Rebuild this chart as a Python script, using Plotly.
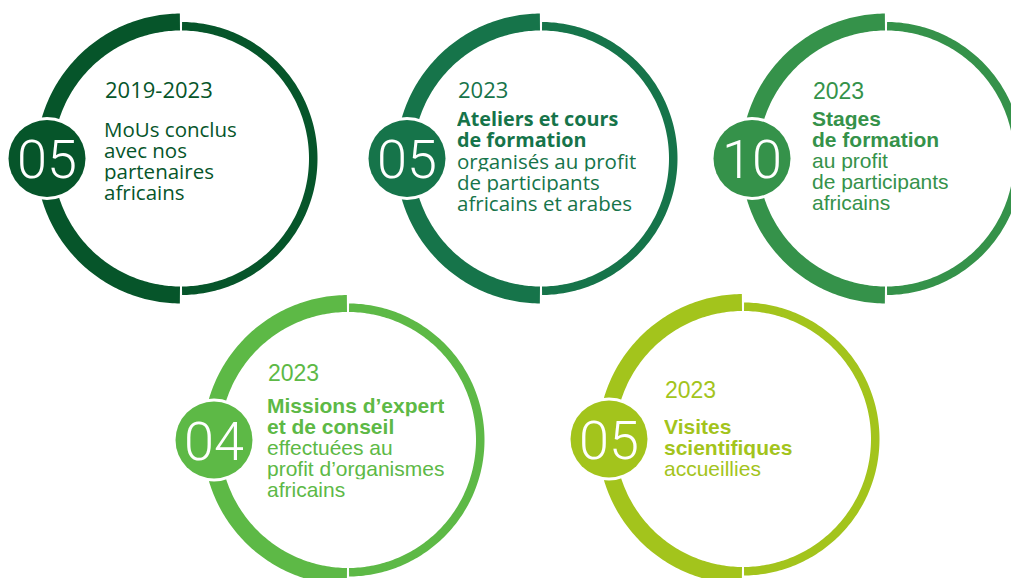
import numpy as np
import plotly.graph_objects as go

# ---- data ----
numbers = ["05", "05", "10", "04", "05"]
periods = ["2019-2023", "2023", "2023", "2023", "2023"]
bold_lines = [
    [],
    ["Ateliers et cours", "de formation"],
    ["Stages", "de formation"],
    ["Missions d’expert", "et de conseil"],
    ["Visites", "scientifiques"],
]
regular_lines = [
    ["MoUs conclus", "avec nos", "partenaires", "africains"],
    ["organisés au profit", "de participants", "africains et arabes"],
    ["au profit", "de participants", "africains"],
    ["effectuées au", "profit d’organismes", "africains"],
    ["accueillies"],
]
colors = ["#06552A", "#16744A", "#35924A", "#5DB946", "#A3C41C"]

# ---- layout (pixel positions) ----
W, H = 1011, 578
centers = [(181, 158.5), (541, 158.5), (886, 158.5), (348, 440), (743, 439)]
text_x = [103, 456, 811, 266, 663]
year_y = [89, 89, 91, 373, 390]
first_y = [128, 118, 118, 405, 426]
text_fonts = ["Open Sans", "Open Sans", "Liberation Sans", "Liberation Sans", "Liberation Sans"]
year_sizes = [22, 22, 23, 23, 23]
line_sizes = [20.5, 20.5, 21, 21, 21]
bold_sizes = [19.8, 19.8, 21, 21, 21]
R_IN, R_THICK, R_THIN = 128, 145, 136.5
LINE_H = 21.2

fig = go.Figure()


def ring(cx, cy, r_in, r_out, a0, a1):
    t = np.radians(np.linspace(a0, a1, 180))
    xo = cx + r_out * np.cos(t)
    yo = cy - r_out * np.sin(t)
    xi = cx + r_in * np.cos(t[::-1])
    yi = cy - r_in * np.sin(t[::-1])
    return np.concatenate([xo, xi, xo[:1]]), np.concatenate([yo, yi, yo[:1]])


shapes = []
annotations = []
for i, (cx, cy) in enumerate(centers):
    col = colors[i]
    x, y = ring(cx, cy, R_IN, R_THICK, 90.45, 269.55)
    fig.add_trace(go.Scatter(x=x, y=y, fill="toself", fillcolor=col, mode="none",
                             hoverinfo="skip", showlegend=False))
    x, y = ring(cx, cy, R_IN, R_THIN, -89.55, 89.55)
    fig.add_trace(go.Scatter(x=x, y=y, fill="toself", fillcolor=col, mode="none",
                             hoverinfo="skip", showlegend=False))
    nx, ny = cx - 134, cy
    shapes.append(dict(type="circle", xref="x", yref="y", x0=nx - 41.5, x1=nx + 41.5,
                       y0=ny - 41.5, y1=ny + 41.5, fillcolor="white", line_width=0, layer="above"))
    shapes.append(dict(type="circle", xref="x", yref="y", x0=nx - 38.5, x1=nx + 38.5,
                       y0=ny - 38.5, y1=ny + 38.5, fillcolor=col, line_width=0, layer="above"))
    annotations.append(dict(x=nx, y=ny + 1, text=numbers[i], showarrow=False,
                            xanchor="center", yanchor="middle",
                            font=dict(family="Roboto", size=54, color="white", weight=300)))
    annotations.append(dict(x=text_x[i], y=year_y[i], text=periods[i], showarrow=False,
                            xanchor="left", yanchor="middle",
                            font=dict(family=text_fonts[i], size=year_sizes[i], color=col)))
    lines = [("<b>" + s + "</b>", bold_sizes[i]) for s in bold_lines[i]] + \
            [(s, line_sizes[i]) for s in regular_lines[i]]
    for k, (s, fs) in enumerate(lines):
        annotations.append(dict(x=text_x[i], y=first_y[i] + k * LINE_H, text=s,
                                showarrow=False, xanchor="left", yanchor="middle",
                                height=LINE_H, borderpad=0,
                                font=dict(family=text_fonts[i], size=fs, color=col)))

fig.update_layout(
    width=W, height=H, margin=dict(l=0, r=0, t=0, b=0),
    paper_bgcolor="white", plot_bgcolor="white",
    xaxis=dict(range=[0, W], visible=False, fixedrange=True),
    yaxis=dict(range=[H, 0], visible=False, fixedrange=True),
    shapes=shapes, annotations=annotations,
)

fig.write_html("out.html", config={"displayModeBar": False},
               post_script="document.body.style.margin='0';document.body.style.overflow='hidden';")
